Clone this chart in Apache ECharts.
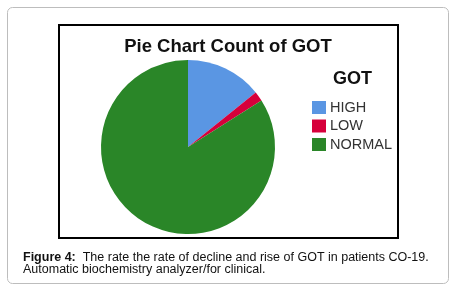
<!DOCTYPE html>
<html>
<head>
<meta charset="utf-8">
<script src="https://cdn.jsdelivr.net/npm/echarts@6/dist/echarts.min.js"></script>
<style>
  html, body { margin: 0; padding: 0; background: #fff; }
  #chart { width: 457px; height: 292px; }
</style>
</head>
<body>
<div id="chart"></div>
<script>
// GOT categories and counts
const categories = ["HIGH", "LOW", "NORMAL"];
const counts = [14.2, 1.8, 84];
const colors = ["#5a96e3", "#d6003b", "#2a8628"];

const chart = echarts.init(document.getElementById("chart"));

const option = {
  animation: false,
  color: colors,
  title: [
    {
      text: "Pie Chart Count of GOT",
      left: 228,
      top: 37,
      padding: 0,
      textAlign: "center",
      textStyle: { fontFamily: "Liberation Sans", fontSize: 18.5, fontWeight: "bold", color: "#111" },
    },
    {
      text: "GOT",
      left: 333,
      top: 70,
      padding: 0,
      textStyle: { fontFamily: "Liberation Sans", fontSize: 18, fontWeight: "bold", color: "#111" },
    },
    {
      text: "{b|Figure 4:}  The rate the rate of decline and rise of GOT in patients CO-19.\nAutomatic biochemistry analyzer/for clinical.",
      left: 23,
      top: 251,
      padding: 0,
      textStyle: {
        fontFamily: "Liberation Sans",
        fontSize: 12.5,
        fontWeight: "normal",
        color: "#111",
        lineHeight: 12.5,
        rich: { b: { fontFamily: "Liberation Sans", fontSize: 12.5, fontWeight: "bold", color: "#111", lineHeight: 12.5 } },
      },
    },
  ],
  legend: {
    orient: "vertical",
    left: 312,
    top: 100,
    padding: 0,
    itemWidth: 14,
    itemHeight: 13,
    itemGap: 3.5,
    icon: "rect",
    data: categories,
    selectedMode: false,
    textStyle: { fontFamily: "Liberation Sans", fontSize: 14.5, color: "#333", padding: [0, 0, 0, -1] },
  },
  graphic: [
    {
      type: "rect",
      shape: { x: 7.5, y: 7.5, width: 441, height: 276, r: 5 },
      style: { fill: null, stroke: "#bdbdbd", lineWidth: 1 },
      z: -1,
    },
    {
      type: "rect",
      shape: { x: 59, y: 25, width: 339, height: 213 },
      style: { fill: "#fff", stroke: "#000", lineWidth: 2 },
      z: -1,
    },
  ],
  series: [
    {
      type: "pie",
      center: [188, 147],
      radius: 87,
      startAngle: 90,
      clockwise: true,
      label: { show: false },
      labelLine: { show: false },
      itemStyle: { borderWidth: 0 },
      emphasis: { disabled: true },
      data: categories.map((name, i) => ({ name: name, value: counts[i] })),
    },
  ],
};

chart.setOption(option);
</script>
</body>
</html>
